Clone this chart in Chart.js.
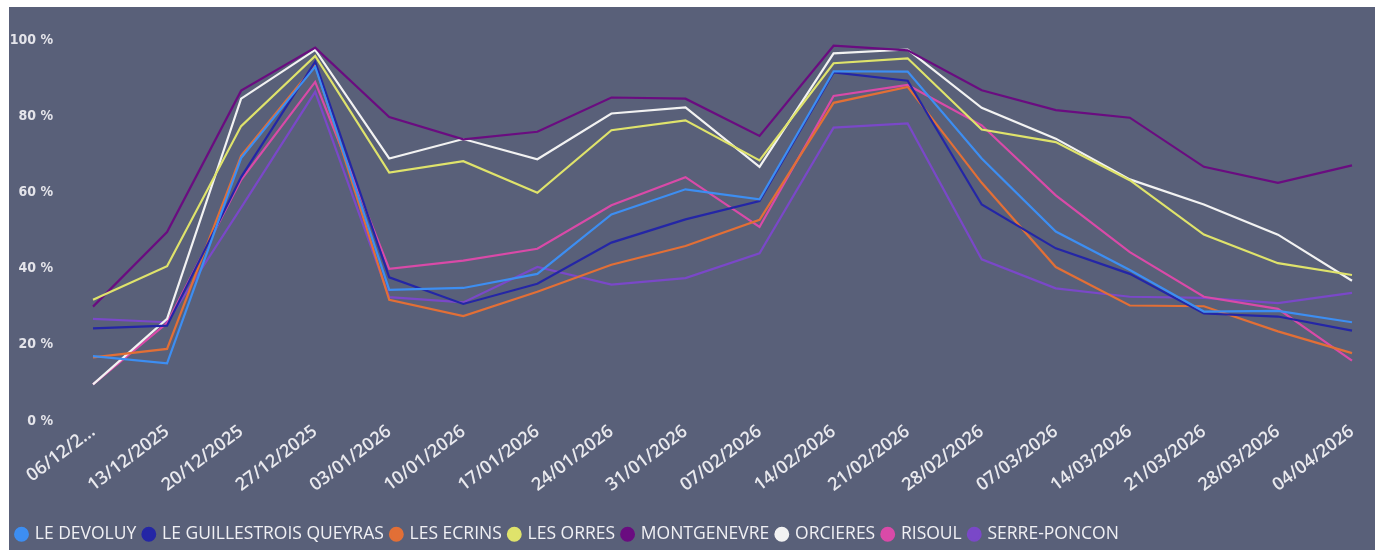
<!DOCTYPE html>
<html>
<head>
<meta charset="utf-8">
<script src="https://cdn.jsdelivr.net/npm/chart.js@4"></script>
<style>
  body { margin: 0; background: #ffffff; }
  #wrap { position: absolute; left: 9px; top: 7px; width: 1366px; height: 543px; background: #596079; }
</style>
</head>
<body>
<div id="wrap"><canvas id="taux"></canvas></div>
<script>
// semaines
const semaines = ['06/12/2025', '13/12/2025', '20/12/2025', '27/12/2025', '03/01/2026', '10/01/2026',
  '17/01/2026', '24/01/2026', '31/01/2026', '07/02/2026', '14/02/2026', '21/02/2026', '28/02/2026',
  '07/03/2026', '14/03/2026', '21/03/2026', '28/03/2026', '04/04/2026'];

// taux (%) par station
const devoluy      = [17, 15.1, 69, 93, 34.4, 34.9, 38.6, 54.2, 60.8, 58.2, 91.8, 91.7, 68.9, 49.7, 39.6, 28.7, 28.9, 25.9];
const guillestrois = [24.3, 25, 64, 94.3, 37.7, 30.7, 36, 46.8, 52.9, 57.7, 91.5, 89.3, 56.8, 45.3, 38.6, 28.2, 27.4, 23.7];
const ecrins       = [16.7, 18.9, 69.6, 93.4, 31.8, 27.5, 33.9, 41, 45.9, 52.8, 83.5, 87.7, 62.5, 40.4, 30.3, 30.1, 23.5, 17.8];
const orres        = [31.8, 40.6, 77.4, 95.8, 65.2, 68.2, 59.9, 76.3, 78.9, 68.4, 93.9, 95.2, 76.5, 73.2, 63.2, 48.9, 41.4, 38.3];
const montgenevre  = [30, 49.6, 86.7, 98, 79.8, 73.9, 75.9, 84.9, 84.6, 74.8, 98.5, 97.3, 86.8, 81.6, 79.6, 66.7, 62.5, 67.1];
const orcieres     = [9.6, 26.8, 84.6, 97.4, 68.9, 74, 68.7, 80.7, 82.3, 66.7, 96.5, 97.5, 82.2, 74.1, 63.4, 56.8, 48.9, 36.8];
const risoul       = [9.6, 25.7, 63.3, 89, 39.9, 42.1, 45.2, 56.6, 64, 50.9, 85.3, 88.2, 77.6, 59.2, 44.3, 32.6, 29.4, 15.8];
const serrePoncon  = [26.8, 25.9, 56, 86.4, 32.5, 31.1, 40.4, 35.8, 37.5, 44, 77, 78.1, 42.4, 34.8, 32.6, 32.3, 30.9, 33.6];

const stations = ['LE DEVOLUY', 'LE GUILLESTROIS QUEYRAS', 'LES ECRINS', 'LES ORRES', 'MONTGENEVRE', 'ORCIERES', 'RISOUL', 'SERRE-PONCON'];
const series = [devoluy, guillestrois, ecrins, orres, montgenevre, orcieres, risoul, serrePoncon];
const couleurs = ['#3d8ef2', '#2426a6', '#e26f36', '#dfe36b', '#6a0c80', '#f2f2f2', '#d94aa8', '#7a48c8'];
const graduations = [0, 20, 40, 60, 80, 100];

const datasets = stations.map((nom, i) => ({
  label: nom,
  data: series[i],
  borderColor: couleurs[i],
  backgroundColor: couleurs[i],
  borderWidth: 2.2,
  pointRadius: 0,
  pointHoverRadius: 0,
  tension: 0,
  fill: false
}));

new Chart(document.getElementById('taux'), {
  type: 'line',
  data: { labels: semaines, datasets: datasets },
  options: {
    responsive: true,
    maintainAspectRatio: false,
    animation: false,
    layout: { padding: { top: 33, right: 23, left: 0, bottom: -3 } },
    scales: {
      x: {
        offset: false,
        grid: { display: false, drawTicks: false },
        border: { display: false },
        ticks: {
          autoSkip: false,
          minRotation: 37,
          maxRotation: 37,
          padding: 0,
          color: '#e9e9ee',
          font: { family: 'Open Sans', size: 18, weight: '600' },
          callback: function (v, i) {
            const t = this.getLabelForValue(v);
            return i === 0 ? t.slice(0, 7) + '...' : t;
          }
        },
        afterFit: (s) => { s.height = 96.6; }
      },
      y: {
        min: 0,
        max: 100,
        grid: { display: false, drawTicks: false },
        border: { display: false },
        afterBuildTicks: (s) => { s.ticks = graduations.map(v => ({ value: v })); },
        afterFit: (s) => { s.width = 84; s.paddingTop = 0; s.paddingBottom = 0; },
        ticks: {
          padding: 40,
          color: '#e4e4ea',
          font: { family: 'DejaVu Sans Condensed', size: 14, weight: 'bold' },
          callback: (v) => v + ' %'
        }
      }
    },
    plugins: {
      legend: {
        position: 'bottom',
        align: 'start',
        labels: {
          usePointStyle: true,
          pointStyle: 'circle',
          boxWidth: 9,
          boxHeight: 9,
          padding: 8,
          color: '#f0f0f4',
          font: { family: 'Open Sans', size: 17.5 }
        }
      },
      tooltip: { enabled: false }
    }
  }
});
</script>
</body>
</html>
